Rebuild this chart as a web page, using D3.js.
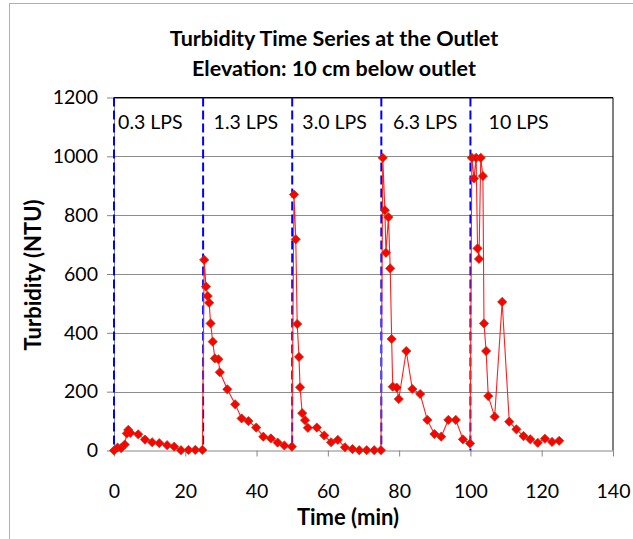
<!DOCTYPE html>
<html><head><meta charset="utf-8">
<script src="https://cdn.jsdelivr.net/npm/d3@7"></script>
<style>body{margin:0;background:#fff}</style>
</head><body><svg id="chart" width="633" height="539"></svg>
<script>
// ---- data ----
const times = [
  0, 1, 2, 3, 3.6, 4, 4.6, 6.8, 8.7, 10.7, 12.7, 14.9, 16.9, 18.8, 20.9, 22.8, 24.8,
  25.3, 25.8, 26.3, 26.7, 27.1, 27.7, 28.3, 29.3, 29.7, 31.8, 34.0, 35.8, 37.7, 39.9, 41.9, 44.0, 45.9, 47.8, 49.9,
  50.5, 51.0, 51.4, 51.9, 52.2, 52.8, 53.6, 54.4, 56.9, 59.0, 60.9, 62.8, 64.8, 66.9, 68.8, 70.9, 73.0, 74.9,
  75.4, 76.0, 76.3, 77.0, 77.5, 77.9, 78.2, 79.3, 79.9, 82.0, 83.7, 85.9, 87.9, 89.9, 91.8, 93.8, 95.9, 97.9, 99.9,
  100.4, 101.0, 101.6, 102.0, 102.4, 102.9, 103.5, 103.8, 104.4, 105.0, 106.8, 108.9, 110.9, 112.9, 114.9, 116.8, 118.9, 120.9, 122.9, 124.9
];
const turbidity = [
  0, 10, 8, 20, 58, 70, 60, 55, 37, 28, 25, 18, 13, 1, 2, 2, 2,
  648, 557, 525, 502, 432, 370, 313, 310, 266, 208, 157, 109, 100, 78, 47, 41, 27, 17, 13,
  870, 718, 430, 318, 215, 127, 103, 77, 78, 51, 28, 36, 11, 5, 1, 1, 1, 1,
  995, 817, 672, 793, 619, 379, 217, 214, 175, 338, 209, 192, 104, 56, 47, 104, 104, 38, 24,
  995, 925, 995, 687, 651, 995, 933, 432, 338, 185, 115, 505, 98, 72, 49, 38, 26, 40, 29, 33
];
const flowBoundaries = [0, 25, 50, 75, 100];
const flowLabels = ["0.3 LPS", "1.3 LPS", "3.0 LPS", "6.3 LPS", "10 LPS"];
const flowLabelTimes = [10.2, 37.0, 61.9, 87.3, 113.5];
const xTicks = [0, 20, 40, 60, 80, 100, 120, 140];
const yTicks = [0, 200, 400, 600, 800, 1000, 1200];
const titleLines = ["Turbidity Time Series at the Outlet", "Elevation: 10 cm below outlet"];
const xTitle = "Time (min)";
const yTitle = "Turbidity (NTU)";

// ---- drawing ----
const FONT = "Lato, 'Open Sans', 'DejaVu Sans', sans-serif";
const svg = d3.select("#chart");
const P = {left: 114, right: 613, top: 97.5, bottom: 450.5};
const x = d3.scaleLinear().domain([0, 140]).range([P.left, P.right]);
const y = d3.scaleLinear().domain([0, 1200]).range([P.bottom, P.top]);

svg.append("rect").attr("x", 9.5).attr("y", 3.5).attr("width", 700).attr("height", 600)
  .attr("fill", "#fff").attr("stroke", "#b0b0b0");

// title
svg.append("g").selectAll("text").data(titleLines).join("text")
  .attr("x", 334).attr("y", (d, i) => 46 + i * 30)
  .attr("text-anchor", "middle").attr("font-family", FONT).attr("font-weight", "bold")
  .attr("font-size", 21.5).attr("fill", "#000").text(d => d);

// gridlines
svg.append("g").selectAll("line").data(yTicks.filter(v => v > 0)).join("line")
  .attr("x1", P.left).attr("x2", P.right)
  .attr("y1", d => Math.round(y(d)) + 0.5).attr("y2", d => Math.round(y(d)) + 0.5)
  .attr("stroke", "#8c8c8c").attr("stroke-width", 1);

// plot border top/right
svg.append("path")
  .attr("d", `M${P.left},${P.top}H${P.right}V${P.bottom}`)
  .attr("fill", "none").attr("stroke", "#000").attr("stroke-width", 1);

// axes
const yAxis = svg.append("g").attr("transform", `translate(${P.left},0)`)
  .call(d3.axisLeft(y).tickValues(yTicks).tickFormat(d3.format("d")).tickSize(7).tickPadding(9).tickSizeOuter(0));
const xAxis = svg.append("g").attr("transform", `translate(0,${P.bottom})`)
  .call(d3.axisBottom(x).tickValues(xTicks).tickFormat(d3.format("d")).tickSize(6).tickPadding(28).tickSizeOuter(0));
[yAxis, xAxis].forEach(g => {
  g.select(".domain").attr("stroke", "#868686");
  g.selectAll(".tick line").attr("stroke", "#868686");
  g.selectAll(".tick text").attr("font-family", FONT).attr("font-size", 19.5).attr("fill", "#000");
});

// axis titles
svg.append("text").attr("x", 348).attr("y", 525).attr("text-anchor", "middle")
  .attr("font-family", FONT).attr("font-weight", "bold").attr("font-size", 22).text(xTitle);
svg.append("text").attr("transform", "translate(41,275) rotate(-90)").attr("text-anchor", "middle")
  .attr("font-family", FONT).attr("font-weight", "bold").attr("font-size", 22).text(yTitle);

// flow boundaries (dashed)
svg.append("g").selectAll("line").data(flowBoundaries).join("line")
  .attr("x1", d => x(d)).attr("x2", d => x(d)).attr("y1", y(1200)).attr("y2", y(0))
  .attr("stroke", "#0000ff").attr("stroke-width", 2).attr("stroke-dasharray", "9,4");

// flow labels
svg.append("g").selectAll("text").data(flowLabels).join("text")
  .attr("x", (d, i) => x(flowLabelTimes[i])).attr("y", 129)
  .attr("text-anchor", "middle").attr("font-family", FONT).attr("font-size", 19.5)
  .attr("fill", "#000").text(d => d);

// series
const pts = times.map((t, i) => [t, turbidity[i]]);
svg.append("path").datum(pts)
  .attr("d", d3.line().x(d => x(d[0])).y(d => y(d[1])))
  .attr("fill", "none").attr("stroke", "#ff2020").attr("stroke-width", 1.1);
const r = 4.6;
svg.append("g").selectAll("path").data(pts).join("path")
  .attr("transform", d => `translate(${x(d[0])},${y(d[1])})`)
  .attr("d", `M0,${-r}L${r},0L0,${r}L${-r},0Z`)
  .attr("fill", "#ff0000").attr("stroke", "#a8401a").attr("stroke-width", 0.8);
</script></body></html>
